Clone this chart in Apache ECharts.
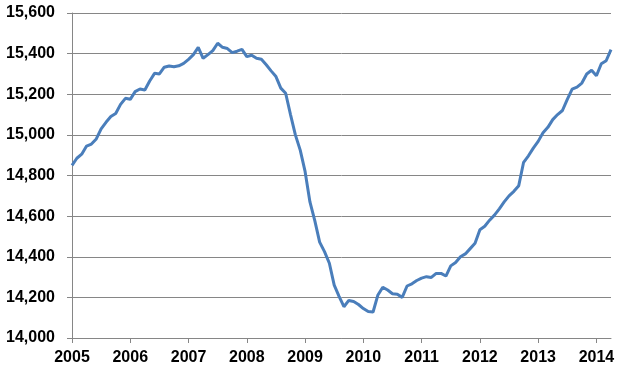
<!DOCTYPE html>
<html>
<head>
<meta charset="utf-8">
<script src="https://cdn.jsdelivr.net/npm/echarts@6/dist/echarts.min.js"></script>
<style>
  html, body { margin: 0; padding: 0; background: #fff; }
  #chart { width: 618px; height: 370px; }
</style>
</head>
<body>
<div id="chart"></div>
<script>
// monthly values, Jan 2005 .. Apr 2014
const years = ['2005', '2006', '2007', '2008', '2009', '2010', '2011', '2012', '2013', '2014'];
const monthsInLastYear = 4;

const values = [
  // 2005
  14850, 14885, 14905, 14945, 14955, 14980, 15030, 15062, 15090, 15105, 15150, 15180,
  // 2006
  15175, 15213, 15226, 15221, 15265, 15303, 15300, 15333, 15339, 15335, 15340, 15352,
  // 2007
  15372, 15395, 15431, 15377, 15395, 15415, 15451, 15431, 15425, 15405, 15412, 15421,
  // 2008
  15385, 15392, 15377, 15372, 15345, 15315, 15287, 15230, 15205, 15100, 15000, 14925,
  // 2009
  14820, 14670, 14578, 14472, 14425, 14368, 14260, 14205, 14154, 14185, 14180, 14165,
  // 2010
  14145, 14130, 14128, 14212, 14250, 14236, 14218, 14215, 14200, 14256, 14267, 14283,
  // 2011
  14295, 14302, 14298, 14318, 14318, 14305, 14355, 14372, 14400, 14414, 14440, 14466,
  // 2012
  14533, 14550, 14580, 14605, 14636, 14670, 14700, 14722, 14750, 14865, 14897, 14935,
  // 2013
  14968, 15010, 15037, 15075, 15100, 15120, 15175, 15225, 15235, 15255, 15300, 15318,
  // 2014
  15291, 15350, 15365, 15420
];

const yMin = 14000;
const yMax = 15600;
const yStep = 200;

// category per month, labelled by year on January
const categories = [];
years.forEach((y, i) => {
  const n = i === years.length - 1 ? monthsInLastYear : 12;
  for (let m = 0; m < n; m++) categories.push(m === 0 ? y : '');
});

const chart = echarts.init(document.getElementById('chart'));

const axisGray = '#868686';
const font = { fontFamily: 'Liberation Sans, Arial, sans-serif', fontWeight: 'bold', fontSize: 16, color: '#000' };

chart.setOption({
  animation: false,
  grid: { left: 72, right: 7, top: 13, bottom: 32, containLabel: false },
  xAxis: {
    type: 'category',
    data: categories,
    boundaryGap: false,
    axisLine: { lineStyle: { color: axisGray, width: 1 } },
    axisTick: { show: true, interval: 11, length: 5, lineStyle: { color: axisGray } },
    axisLabel: Object.assign({ interval: 11, margin: 12 }, font),
    splitLine: { show: false }
  },
  yAxis: {
    type: 'value',
    min: yMin,
    max: yMax,
    interval: yStep,
    axisLine: { show: true, lineStyle: { color: axisGray, width: 1 } },
    axisTick: { show: true, length: 5, lineStyle: { color: axisGray } },
    axisLabel: Object.assign({
      margin: 17,
      formatter: v => v.toLocaleString('en-US')
    }, font),
    splitLine: { lineStyle: { color: axisGray, width: 1 } }
  },
  series: [{
    type: 'line',
    data: values,
    showSymbol: false,
    lineStyle: { color: '#4A7EBB', width: 3 },
    itemStyle: { color: '#4A7EBB' }
  }]
});
</script>
</body>
</html>
